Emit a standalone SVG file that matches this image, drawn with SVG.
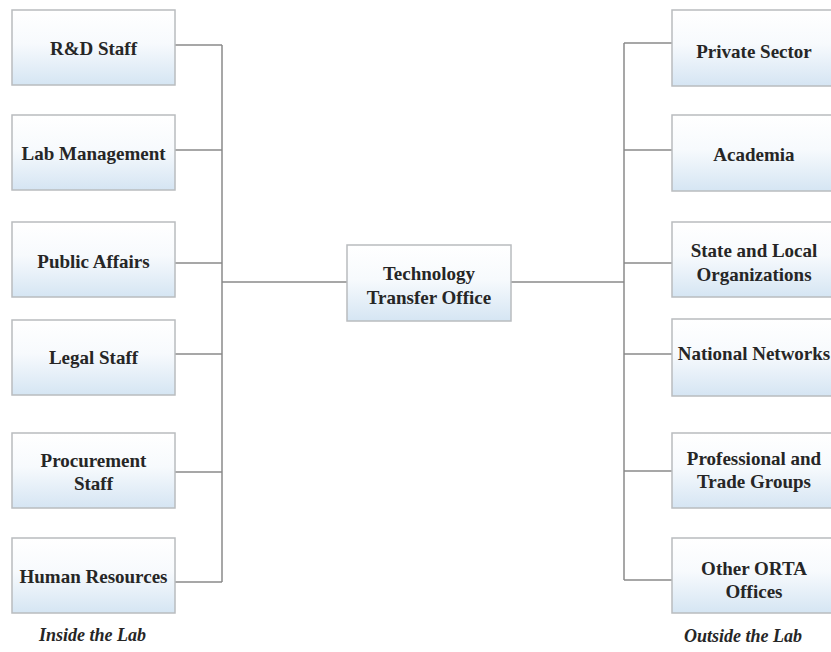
<svg xmlns="http://www.w3.org/2000/svg" width="831" height="652" viewBox="0 0 831 652">
<defs>
<linearGradient id="boxfill" x1="0" y1="0" x2="0" y2="1">
<stop offset="0" stop-color="#ffffff"/>
<stop offset="0.45" stop-color="#f7fafd"/>
<stop offset="1" stop-color="#d5e5f3"/>
</linearGradient>
<style>
.box{fill:url(#boxfill);stroke:#b9bcbf;stroke-width:1.5}
.lbl{font-family:"Liberation Serif","Times New Roman",serif;font-weight:bold;font-size:19px;fill:#262626;text-anchor:middle}
.cap{font-family:"Liberation Serif","Times New Roman",serif;font-weight:bold;font-style:italic;font-size:18px;fill:#262626;text-anchor:middle}
.conn{fill:none;stroke:#8a8a8a;stroke-width:1.5}
</style>
</defs>
<rect width="831" height="652" fill="#ffffff"/>
<g id="connectors">
<path class="conn" d="M175 45H222M175 150H222M175 263H222M175 354H222M175 472H222M175 582H222M222 45V582M222 282H347"/>
<path class="conn" d="M511 282H624M624 43V580M624 43H672M624 150H672M624 263H672M624 354H672M624 471H672M624 580H672"/>
</g>
<g id="tto"><rect class="box" x="347" y="245" width="164" height="76"/><text class="lbl" x="429" y="280">Technology</text><text class="lbl" x="429" y="304">Transfer Office</text></g>
<g id="rd-staff"><rect class="box" x="12" y="10" width="163" height="75"/><text class="lbl" x="93.5" y="55">R&amp;D Staff</text></g>
<g id="lab-management"><rect class="box" x="12" y="115" width="163" height="75"/><text class="lbl" x="93.5" y="160">Lab Management</text></g>
<g id="public-affairs"><rect class="box" x="12" y="222" width="163" height="75"/><text class="lbl" x="93.5" y="268">Public Affairs</text></g>
<g id="legal-staff"><rect class="box" x="12" y="320" width="163" height="75"/><text class="lbl" x="93.5" y="364">Legal Staff</text></g>
<g id="procurement-staff"><rect class="box" x="12" y="433" width="163" height="75"/><text class="lbl" x="93.5" y="467">Procurement</text><text class="lbl" x="93.5" y="490">Staff</text></g>
<g id="human-resources"><rect class="box" x="12" y="538" width="163" height="75"/><text class="lbl" x="93.5" y="583">Human Resources</text></g>
<g id="private-sector"><rect class="box" x="672" y="10" width="164" height="76"/><text class="lbl" x="754" y="58">Private Sector</text></g>
<g id="academia"><rect class="box" x="672" y="115" width="164" height="76"/><text class="lbl" x="754" y="161">Academia</text></g>
<g id="state-local"><rect class="box" x="672" y="222" width="164" height="75"/><text class="lbl" x="754" y="257">State and Local</text><text class="lbl" x="754" y="281">Organizations</text></g>
<g id="national-networks"><rect class="box" x="672" y="319" width="164" height="77"/><text class="lbl" x="754" y="360">National Networks</text></g>
<g id="professional-trade"><rect class="box" x="672" y="433" width="164" height="75"/><text class="lbl" x="754" y="465">Professional and</text><text class="lbl" x="754" y="488">Trade Groups</text></g>
<g id="other-orta"><rect class="box" x="672" y="538" width="164" height="75"/><text class="lbl" x="754" y="575">Other ORTA</text><text class="lbl" x="754" y="598">Offices</text></g>
<g id="captions"><text class="cap" x="92.5" y="641">Inside the Lab</text><text class="cap" x="743" y="642">Outside the Lab</text></g>
</svg>
